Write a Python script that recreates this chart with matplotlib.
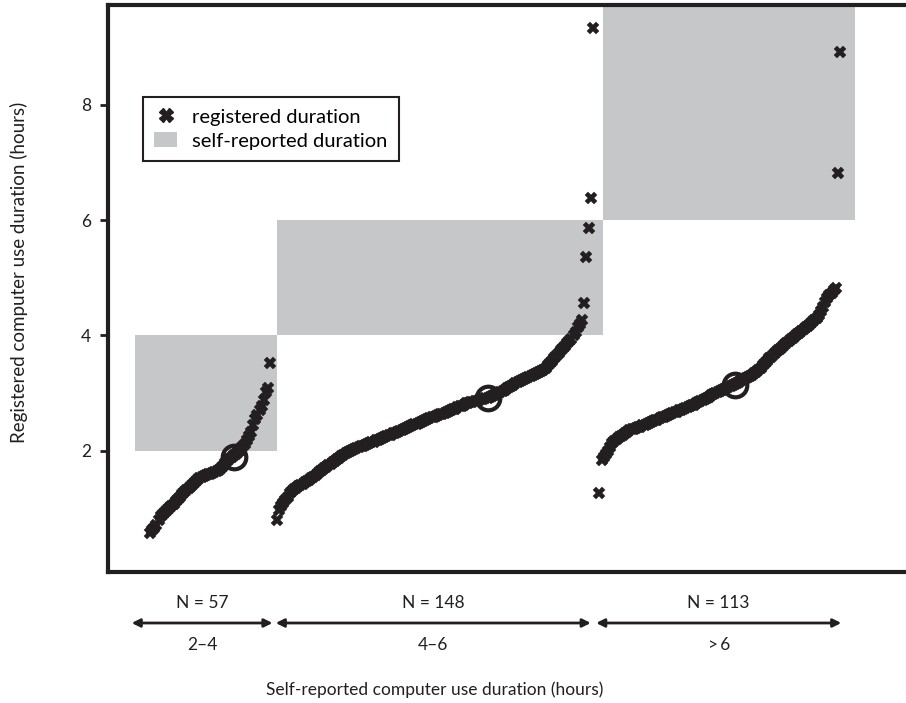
import numpy as np
import matplotlib
matplotlib.use("Agg")
import matplotlib.pyplot as plt
from matplotlib.lines import Line2D
from matplotlib.patches import Patch, Rectangle
from matplotlib.transforms import blended_transform_factory

plt.rcParams['font.family'] = ['Lato', 'DejaVu Sans']

# registered durations (hours), sorted within each self-reported group
g1 = [0.57, 0.62, 0.66, 0.72, 0.80, 0.86, 0.90, 0.93, 0.97, 1.00,
      1.04, 1.08, 1.12, 1.16, 1.20, 1.25, 1.28, 1.32, 1.35, 1.38,
      1.42, 1.45, 1.49, 1.52, 1.54, 1.56, 1.58, 1.59, 1.60, 1.62,
      1.63, 1.65, 1.67, 1.70, 1.74, 1.78, 1.82, 1.86, 1.89, 1.92,
      1.95, 1.98, 2.02, 2.07, 2.12, 2.18, 2.25, 2.32, 2.45, 2.55,
      2.62, 2.70, 2.78, 2.88, 3.02, 3.08, 3.52]
g2 = [0.80, 0.98, 1.05, 1.09, 1.14, 1.20, 1.26, 1.31, 1.34, 1.36,
      1.38, 1.40, 1.42, 1.45, 1.47, 1.49, 1.52, 1.55, 1.58, 1.61,
      1.64, 1.67, 1.70, 1.72, 1.75, 1.77, 1.80, 1.83, 1.85, 1.88,
      1.91, 1.93, 1.96, 1.98, 2.00, 2.02, 2.03, 2.05, 2.06, 2.08,
      2.09, 2.10, 2.12, 2.13, 2.15, 2.16, 2.18, 2.19, 2.21, 2.22,
      2.24, 2.25, 2.27, 2.28, 2.30, 2.31, 2.33, 2.34, 2.36, 2.38,
      2.40, 2.41, 2.43, 2.44, 2.46, 2.47, 2.48, 2.50, 2.51, 2.53,
      2.55, 2.56, 2.58, 2.59, 2.60, 2.62, 2.63, 2.64, 2.66, 2.67,
      2.69, 2.70, 2.72, 2.73, 2.75, 2.77, 2.78, 2.80, 2.82, 2.83,
      2.84, 2.85, 2.86, 2.87, 2.88, 2.89, 2.90, 2.91, 2.92, 2.93,
      2.95, 2.96, 2.98, 3.00, 3.02, 3.04, 3.06, 3.08, 3.10, 3.12,
      3.14, 3.17, 3.19, 3.21, 3.23, 3.25, 3.27, 3.28, 3.30, 3.32,
      3.33, 3.35, 3.37, 3.38, 3.40, 3.44, 3.48, 3.52, 3.56, 3.60,
      3.65, 3.69, 3.74, 3.78, 3.82, 3.86, 3.90, 3.94, 4.00, 4.06,
      4.14, 4.20, 4.26, 4.57, 5.36, 5.86, 6.38, 9.33]
g3 = [1.27, 1.84, 1.90, 1.95, 2.00, 2.07, 2.13, 2.17, 2.20, 2.23,
      2.26, 2.28, 2.31, 2.33, 2.36, 2.37, 2.38, 2.40, 2.41, 2.42,
      2.44, 2.45, 2.46, 2.48, 2.50, 2.51, 2.53, 2.54, 2.56, 2.58,
      2.59, 2.61, 2.62, 2.64, 2.65, 2.67, 2.68, 2.70, 2.71, 2.72,
      2.74, 2.76, 2.77, 2.79, 2.80, 2.82, 2.84, 2.86, 2.88, 2.90,
      2.92, 2.94, 2.96, 2.98, 3.00, 3.02, 3.04, 3.06, 3.07, 3.09,
      3.11, 3.12, 3.14, 3.16, 3.18, 3.20, 3.22, 3.24, 3.26, 3.28,
      3.30, 3.32, 3.35, 3.37, 3.40, 3.44, 3.48, 3.52, 3.56, 3.60,
      3.63, 3.67, 3.71, 3.74, 3.77, 3.80, 3.84, 3.87, 3.90, 3.93,
      3.96, 3.99, 4.02, 4.05, 4.08, 4.11, 4.14, 4.17, 4.20, 4.23,
      4.26, 4.30, 4.35, 4.42, 4.50, 4.58, 4.65, 4.70, 4.73, 4.78,
      4.83, 6.81, 8.91]
groups = [g1, g2, g3]
means = [1.89, 2.91, 3.14]
range_labels = ['2\u20134', '4\u20136', '>\u20096']
band_low = [2, 4, 6]
band_high = [4, 6, 10]

dark = '#231f20'
gray = '#c6c7c9'

fig = plt.figure(figsize=(9.06, 7.03), dpi=100)
ax = fig.add_axes([108/906, 1 - 572/703, 1 - 108/906, (572 - 5)/703])
below = blended_transform_factory(ax.transData, fig.transFigure)

offsets = [0, 59, 209]
edges = [-7, 59, 210.7, 328]
arrow_x = [(-8.5, 57), (58.5, 205), (207.5, 321.5)]
for k, vals in enumerate(groups):
    xs = offsets[k] + np.arange(len(vals))
    ax.add_patch(Rectangle((edges[k], band_low[k]), edges[k+1] - edges[k],
                           band_high[k] - band_low[k], color=gray, lw=0, zorder=1))
    ax.plot(xs, vals, 'X', ms=8.5, color=dark, mec=dark, mew=0.3, zorder=3)
    # mean marker sits where the sorted curve reaches the mean
    mx = offsets[k] + np.searchsorted(vals, means[k]) + 1
    ax.plot(mx, means[k], 'o', ms=17, mfc='none', mec=dark, mew=3, zorder=4)

    # arrow + labels below the axes
    a0, a1 = arrow_x[k]
    ax.annotate('', xy=(a0, 1 - 623/703), xytext=(a1, 1 - 623/703),
                xycoords=below, textcoords=below,
                arrowprops=dict(arrowstyle='<|-|>', color=dark, lw=2,
                                mutation_scale=12, shrinkA=0, shrinkB=0),
                annotation_clip=False)
    cx = (a0 + a1) / 2
    ax.text(cx, 1 - 603/703, 'N = %d' % len(vals), transform=below,
            ha='center', va='center', fontsize=12.5, color=dark)
    ax.text(cx, 1 - 645/703, range_labels[k], transform=below,
            ha='center', va='center', fontsize=12.5, color=dark)

ax.set_xlim(-19.5, 351.6)
ax.set_ylim(-0.103, 9.73)
ax.set_xticks([])
ax.set_yticks([2, 4, 6, 8])
ax.tick_params(axis='y', direction='out', length=6, width=2, pad=6,
               labelsize=12.5, colors=dark)
for s in ['left', 'top', 'bottom']:
    ax.spines[s].set_linewidth(3)
    ax.spines[s].set_color(dark)
ax.spines['right'].set_visible(False)

fig.text(435/906, 1 - 690/703, 'Self-reported computer use duration (hours)',
         ha='center', va='center', fontsize=12.5, color=dark)
fig.text(19/906, 1 - 272/703, 'Registered computer use duration (hours)',
         ha='center', va='center', rotation=90, fontsize=13.5, color=dark)

handles = [Line2D([], [], ls='none', marker='X', ms=10, color=dark),
           Patch(facecolor=gray, edgecolor='none')]
leg = ax.legend(handles, ['registered duration', 'self-reported duration'],
                loc='upper left', bbox_to_anchor=(143/906, 1 - 97/703),
                bbox_transform=fig.transFigure, borderaxespad=0,
                fancybox=False, framealpha=1, edgecolor=dark, fontsize=14.5,
                handlelength=1.15, handleheight=0.8, handletextpad=0.75,
                labelspacing=0.3, borderpad=0.55)
leg.get_frame().set_linewidth(1.5)

fig.savefig('out.png', dpi=100)
